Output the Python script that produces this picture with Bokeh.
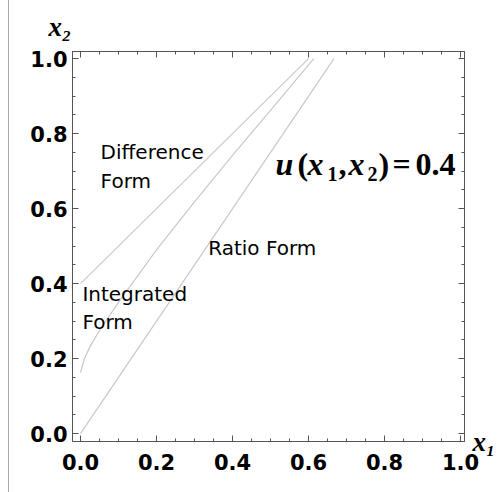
from bokeh.plotting import figure
from bokeh.models import Label, LinearAxis, Range1d, FixedTicker, Div
from bokeh.layouts import row
from bokeh.embed import file_html
from bokeh.resources import INLINE

# ---- data ----
diff_x = [0.0, 0.6]
diff_y = [0.4, 1.0]
ratio_x = [0.0, 0.667]
ratio_y = [0.0, 1.0]
integ_x = [0.0, 0.01, 0.025, 0.05, 0.1, 0.2, 0.3, 0.4, 0.5, 0.614]
integ_y = [0.163, 0.199, 0.232, 0.275, 0.35, 0.49, 0.618, 0.742, 0.862, 1.0]

major_ticks = [0.0, 0.2, 0.4, 0.6, 0.8, 1.0]
tick_labels = ["0.0", "0.2", "0.4", "0.6", "0.8", "1.0"]
minor_ticks = [0.05, 0.1, 0.15, 0.25, 0.3, 0.35, 0.45, 0.5, 0.55,
               0.65, 0.7, 0.75, 0.85, 0.9, 0.95]

form_texts = ["Difference", "Form", "Integrated", "Form", "Ratio Form"]
form_x = [0.053, 0.053, 0.005, 0.005, 0.336]
form_y = [0.750, 0.675, 0.372, 0.299, 0.494]

# equation label u(x1,x2)=0.4 pieces
eq_parts = ["u", "(", "x", "1", ",", "x", "2", ")", "=", "0.4"]
eq_offsets = [0, 22, 32, 52, 63, 73, 92, 103, 117, 140]
eq_sub = [False, False, False, True, False, False, True, False, False, False]
eq_italic = [True, False, True, False, False, True, False, False, False, False]
eq_x = 0.513
eq_y_main = 0.719
eq_y_sub = 0.692

x1_name = "x\u2081"
x2_name = "x\u2082"

LINE = "#c8c8c8"
AX = "#555555"

p = figure(width=495, height=492,
           x_range=Range1d(-0.021, 1.0105), y_range=Range1d(-0.021, 1.019),
           output_backend="svg", toolbar_location=None,
           min_border_left=63, min_border_right=40,
           min_border_top=51, min_border_bottom=51, margin=0)
p.xgrid.visible = False
p.ygrid.visible = False
p.outline_line_color = AX
p.background_fill_color = "white"
p.border_fill_color = "white"

p.line(diff_x, diff_y, line_color=LINE, line_width=1.2)
p.line(ratio_x, ratio_y, line_color=LINE, line_width=1.2)
p.line(integ_x, integ_y, line_color=LINE, line_width=1.2)

overrides = {t: l for t, l in zip(major_ticks, tick_labels)}

def style_axis(ax, show_labels):
    ax.ticker = FixedTicker(ticks=major_ticks, minor_ticks=minor_ticks)
    ax.major_label_overrides = overrides
    ax.axis_line_color = AX
    ax.major_tick_line_color = AX
    ax.minor_tick_line_color = AX
    ax.major_tick_in = 6
    ax.major_tick_out = 0
    ax.minor_tick_in = 3
    ax.minor_tick_out = 0
    if show_labels:
        ax.major_label_text_font = "DejaVu Sans"
        ax.major_label_text_font_style = "bold"
        ax.major_label_text_font_size = "21px"
        ax.major_label_text_color = "black"
    else:
        ax.major_label_text_font_size = "0px"
        ax.major_label_standoff = 0

style_axis(p.xaxis[0], True)
style_axis(p.yaxis[0], True)
p.xaxis[0].major_label_standoff = 12
p.yaxis[0].major_label_standoff = 5

top_ax = LinearAxis()
right_ax = LinearAxis()
style_axis(top_ax, False)
style_axis(right_ax, False)

# x1 as the right axis' label, horizontal, at the bottom end
right_ax.axis_label = x1_name
right_ax.axis_label_text_font = "Liberation Serif"
right_ax.axis_label_text_font_style = "bold italic"
right_ax.axis_label_text_font_size = "27px"
right_ax.axis_label_text_color = "black"
right_ax.axis_label_standoff = 8
right_ax.axis_label_orientation = "horizontal"
right_ax.axis_label_text_baseline = "alphabetic"
try:
    right_ax.axis_label_align = "start"
except Exception:
    pass

p.add_layout(top_ax, "above")
p.add_layout(right_ax, "right")

# x2 as the (left aligned) title
p.title.text = x2_name
p.title.align = "left"
p.title.offset = -24
p.title.text_font = "Liberation Serif"
p.title.text_font_style = "bold italic"
p.title.text_font_size = "27px"
p.title.text_color = "black"
p.title.standoff = 19

for t, x, y in zip(form_texts, form_x, form_y):
    p.add_layout(Label(x=x, y=y, text=t, text_font="DejaVu Sans",
                       text_font_size="20px", text_color="black",
                       text_baseline="alphabetic", text_align="left"))

for part, off, sub, it in zip(eq_parts, eq_offsets, eq_sub, eq_italic):
    p.add_layout(Label(x=eq_x, y=eq_y_sub if sub else eq_y_main, x_offset=off,
                       text=part, text_font="Liberation Serif",
                       text_font_style="bold italic" if it else "bold",
                       text_font_size="20px" if sub else "32px",
                       text_color="black", text_baseline="alphabetic",
                       text_align="left"))

# thin gray rule at the left of the picture
rule = Div(text="", width=9, height=492, margin=0,
           styles={"border-right": "1px solid #aaaaaa", "box-sizing": "border-box"})

layout = row(rule, p, spacing=0, margin=0)

open("out.html", "w").write(file_html(layout, INLINE))
